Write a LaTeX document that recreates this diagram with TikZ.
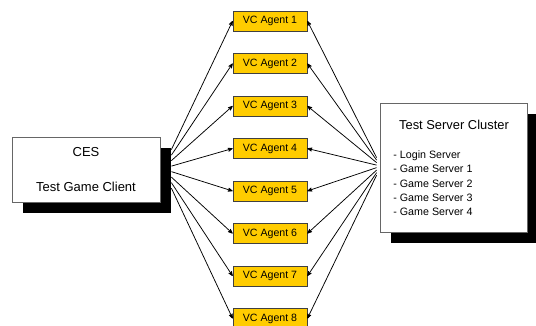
\documentclass[tikz,border=0pt]{standalone}
\usepackage{fontspec}
\setsansfont{Liberation Sans}
\usetikzlibrary{arrows,shadows}
\definecolor{agentgold}{HTML}{FFCC00}

\begin{document}
\begin{tikzpicture}[x=1pt,y=-1pt,>=stealth',node distance=42.5pt,
  thick,line width=0.75pt,
  client node/.style={rectangle,fill=white,draw=black!60,minimum width=148pt,minimum height=65pt,
    align=center,font=\sffamily\fontsize{13}{15.6}\selectfont,
    drop shadow={shadow xshift=11pt,shadow yshift=-11pt,fill=black,opacity=1}},
  server node/.style={rectangle,fill=white,draw=black!60,minimum width=147pt,minimum height=129pt,
    drop shadow={shadow xshift=11pt,shadow yshift=-11pt,fill=black,opacity=1}},
  agent node/.style={rectangle,fill=agentgold,draw=black!75,minimum width=74pt,minimum height=20pt,
    inner sep=0pt,font=\sffamily\fontsize{10.6}{12}\selectfont},
  title node/.style={inner sep=0pt,font=\sffamily\fontsize{12.9}{15}\selectfont},
  list node/.style={inner sep=0pt,align=left,font=\sffamily\fontsize{10.7}{14.25}\selectfont}]
  \useasboundingbox (0,0) rectangle (536,326);

  \node[client node] (ces) at (86,169.5) {CES\\[20pt]Test Game Client};
  \node[server node] (srv) at (453.5,167.5) {};
  \node[title node]  (srvtitle) at (454,125) {Test Server Cluster};
  \node[list node,anchor=north west] (srvlist) at (393,150.5)
    {- Login Server\\- Game Server 1\\- Game Server 2\\- Game Server 3\\- Game Server 4};

  \node[agent node] (a1) at (270,21) {VC Agent 1};
  \node[agent node] (a2) [below of=a1] {VC Agent 2};
  \node[agent node] (a3) [below of=a2] {VC Agent 3};
  \node[agent node] (a4) [below of=a3] {VC Agent 4};
  \node[agent node] (a5) [below of=a4] {VC Agent 5};
  \node[agent node] (a6) [below of=a5] {VC Agent 6};
  \node[agent node] (a7) [below of=a6] {VC Agent 7};
  \node[agent node] (a8) [below of=a7] {VC Agent 8};

  % client side
  \path[every edge/.style={draw,->}]
    ([xshift=11pt,yshift=-13pt]ces.north east)   edge (a1.west)
    ([xshift=11pt,yshift=-18.5pt]ces.north east) edge (a2.west)
    ([xshift=11pt,yshift=-24pt]ces.north east)   edge (a3.west)
    ([xshift=11pt,yshift=-29.5pt]ces.north east) edge (a4.west)
    ([xshift=11pt,yshift=-35pt]ces.north east)   edge (a5.west)
    ([xshift=11pt,yshift=-40.5pt]ces.north east) edge (a6.west)
    ([xshift=11pt,yshift=-46pt]ces.north east)   edge (a7.west)
    ([xshift=11pt,yshift=-51.5pt]ces.north east) edge (a8.west);

  % server side
  \path[every edge/.style={draw,->}]
    ([xshift=-3pt,yshift=-55pt]srv.north west)   edge (a1.east)
    ([xshift=-3pt,yshift=-57.5pt]srv.north west) edge (a2.east)
    ([xshift=-3pt,yshift=-60pt]srv.north west)   edge (a3.east)
    ([xshift=-3pt,yshift=-62.5pt]srv.north west) edge (a4.east)
    ([xshift=-3pt,yshift=-65pt]srv.north west)   edge (a5.east)
    ([xshift=-3pt,yshift=-67.5pt]srv.north west) edge (a6.east)
    ([xshift=-3pt,yshift=-70pt]srv.north west)   edge (a7.east)
    ([xshift=-3pt,yshift=-72.5pt]srv.north west) edge (a8.east);
\end{tikzpicture}
\end{document}
